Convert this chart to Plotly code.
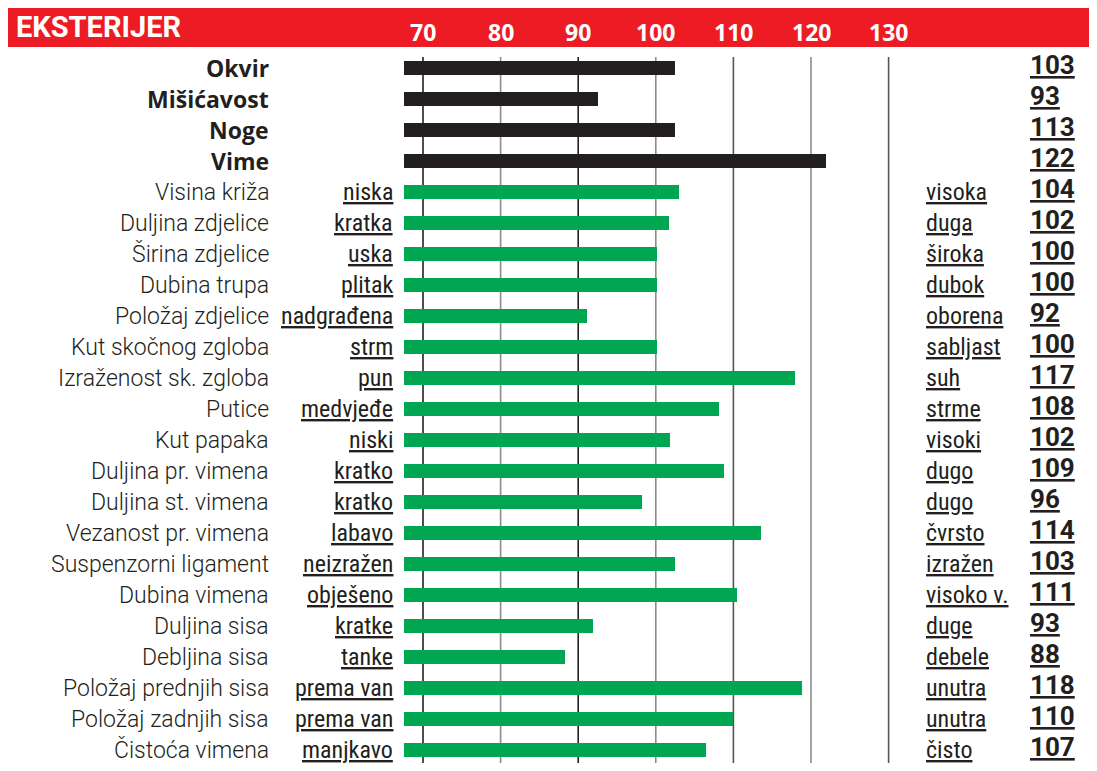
import plotly.graph_objects as go

# ---------------- data ----------------
traits = ["Okvir", "Mišićavost", "Noge", "Vime",
          "Visina križa", "Duljina zdjelice", "Širina zdjelice", "Dubina trupa",
          "Položaj zdjelice", "Kut skočnog zgloba", "Izraženost sk. zgloba", "Putice",
          "Kut papaka", "Duljina pr. vimena", "Duljina st. vimena", "Vezanost pr. vimena",
          "Suspenzorni ligament", "Dubina vimena", "Duljina sisa", "Debljina sisa",
          "Položaj prednjih sisa", "Položaj zadnjih sisa", "Čistoća vimena"]
low_labels = ["", "", "", "",
              "niska", "kratka", "uska", "plitak", "nadgrađena", "strm", "pun", "medvjeđe",
              "niski", "kratko", "kratko", "labavo", "neizražen", "obješeno", "kratke",
              "tanke", "prema van", "prema van", "manjkavo"]
high_labels = ["", "", "", "",
               "visoka", "duga", "široka", "dubok", "oborena", "sabljast", "suh", "strme",
               "visoki", "dugo", "dugo", "čvrsto", "izražen", "visoko v.", "duge",
               "debele", "unutra", "unutra", "čisto"]
scores = [103, 93, 113, 122, 104, 102, 100, 100, 92, 100, 117, 108, 102, 109, 96,
          114, 103, 111, 93, 88, 118, 110, 107]
# bar ends as drawn in the picture
bar_values = [102.5, 92.6, 102.5, 121.9, 103.0, 101.7, 100.2, 100.2, 91.1, 100.1,
              117.9, 108.1, 101.8, 108.8, 98.2, 113.6, 102.5, 110.5, 91.9, 88.3,
              118.8, 110.0, 106.5]
bar_base = 67.5
ticks = [70, 80, 90, 100, 110, 120, 130]
tick_colors = ["#231f20", "#8c8c8c", "#231f20", "#8c8c8c", "#555555", "#8c8c8c", "#555555"]
n_main = 4

# ---------------- layout helpers (page pixel coords) ----------------
OFF = 8                     # browser body margin
W, H = 1089, 755            # figure size
PAGE_TOP_PLOT = 57
PAGE_BOT_PLOT = OFF + H     # 763
PH = PAGE_BOT_PLOT - PAGE_TOP_PLOT
ROW0, ROWSTEP = 68, 31


def px_x(p):
    return (p - OFF) / W


def px_y(p):
    return (PAGE_BOT_PLOT - p) / PH


DARK = "#231f20"
GREEN = "#00a651"
RED = "#ed1c24"
COND = "Liberation Sans Narrow, Roboto Condensed, Roboto, sans-serif"
LIGHT = "Roboto, Open Sans, sans-serif"
BOLD = "Open Sans, sans-serif"
NUM = "Roboto, sans-serif"

colors = [DARK if i < n_main else GREEN for i in range(len(traits))]

fig = go.Figure(go.Bar(
    y=traits,
    x=[v - bar_base for v in bar_values],
    base=bar_base,
    orientation="h",
    marker=dict(color=colors, line=dict(width=0)),
    width=0.42,
    hoverinfo="skip",
))

# x scale: value 70 at page x 423, 7.76 px per unit
ppu = 7.76
x0 = 70 + (OFF - 423) / ppu
x1 = 70 + (OFF + W - 423) / ppu
y_top = (PAGE_TOP_PLOT - ROW0) / ROWSTEP
y_bot = (PAGE_BOT_PLOT - ROW0) / ROWSTEP

shapes = [dict(type="rect", xref="paper", yref="paper", x0=0, x1=1.0,
               y0=px_y(47), y1=px_y(OFF), fillcolor=RED, line=dict(width=0), layer="below")]
for t, c in zip(ticks, tick_colors):
    shapes.append(dict(type="line", xref="x", yref="paper", x0=t, x1=t, y0=0, y1=1,
                       line=dict(color=c, width=1.6), layer="below"))

ann = [dict(text="<b>EKSTERIJER</b>", xref="paper", yref="paper", x=px_x(15), y=px_y(27),
            xanchor="left", yanchor="middle", showarrow=False, borderpad=0,
            font=dict(family=NUM, size=29, color="white"))]
for t in ticks:
    ann.append(dict(text="<b>%d</b>" % t, xref="x", yref="paper", x=t, y=px_y(32),
                    xanchor="center", yanchor="middle", showarrow=False,
                    font=dict(family=BOLD, size=23, color="white")))


def row_ann(text, y, x, anchor, font, yshift=0):
    return dict(text=text, xref="paper", yref="y", x=x, y=y, xanchor=anchor,
                yanchor="middle", borderpad=0, showarrow=False, font=font, yshift=yshift)


for i, name in enumerate(traits):
    if i < n_main:
        ann.append(row_ann("<b>%s</b>" % name, name, px_x(270), "right",
                           dict(family=BOLD, size=23, color=DARK)))
    else:
        ann.append(row_ann(name, name, px_x(270), "right",
                           dict(family=LIGHT, size=23, color=DARK, weight=300)))
    if low_labels[i]:
        ann.append(row_ann(low_labels[i], name, px_x(394), "right",
                           dict(family=COND, size=24, color=DARK, lineposition="under")))
    if high_labels[i]:
        ann.append(row_ann(high_labels[i], name, px_x(925), "left",
                           dict(family=COND, size=24, color=DARK, lineposition="under")))
    ann.append(row_ann("<b>%d</b>" % scores[i], name, px_x(1029), "left",
                       dict(family=NUM, size=26, color=DARK, lineposition="under"), yshift=3))

fig.update_layout(
    width=W, height=H,
    margin=dict(l=0, r=0, t=PAGE_TOP_PLOT - OFF, b=0, pad=0),
    paper_bgcolor="white", plot_bgcolor="white",
    showlegend=False,
    xaxis=dict(range=[x0, x1], showgrid=False, zeroline=False, showticklabels=False,
               ticks="", showline=False, fixedrange=True),
    yaxis=dict(categoryorder="array", categoryarray=traits, range=[y_bot, y_top],
               showgrid=False, zeroline=False, showticklabels=False, ticks="",
               showline=False, fixedrange=True),
    shapes=shapes,
    annotations=ann,
    bargap=0,
)

fig.write_html("out.html", config={"displayModeBar": False})
